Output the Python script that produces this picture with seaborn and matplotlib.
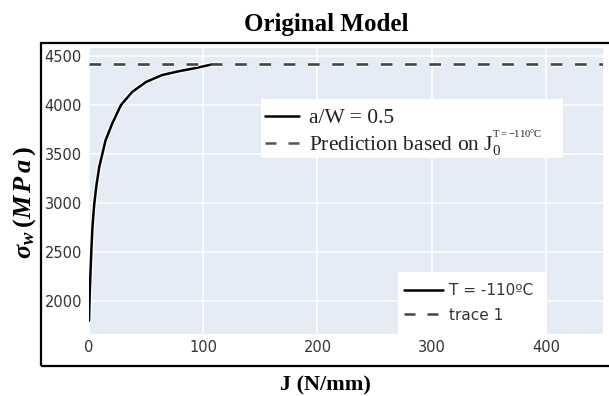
import matplotlib
matplotlib.use("Agg")
import matplotlib.pyplot as plt
import matplotlib.patheffects as pe
from matplotlib.lines import Line2D
from matplotlib.patches import Rectangle
import pandas as pd
import seaborn as sns

# Weibull stress vs. J-integral, a/W = 0.5, T = -110 °C
j_values = [0.0, 0.6, 1.2, 2.0, 3.0, 4.5, 6.5, 9.0, 14.5, 20.5, 28.0, 38.0,
            50.0, 64.0, 79.0, 94.0, 112.0]
sigma_values = [1800, 2070, 2260, 2500, 2750, 2980, 3180, 3370, 3640, 3815,
                4000, 4135, 4235, 4305, 4345, 4378, 4425]

# Prediction level from J0 at T = -110 °C
prediction_j = [0, 450]
prediction_sigma = [4420, 4420]

x_ticks = [0, 100, 200, 300, 400]
y_ticks = [2000, 2500, 3000, 3500, 4000, 4500]

model_labels = ["a/W = 0.5",
                r"Prediction based on $\mathrm{J}_0^{{}^{\mathrm{T=-110°C}}}$"]
trace_labels = ["T = -110ºC", "trace 1"]

curve = pd.DataFrame({"J": j_values, "sigma": sigma_values})
prediction = pd.DataFrame({"J": prediction_j, "sigma": prediction_sigma})

sns.set_theme(style="darkgrid", rc={
    "axes.facecolor": "#E5ECF6",
    "grid.color": "white",
    "grid.linewidth": 1.1,
})
plt.rcParams["mathtext.fontset"] = "custom"
plt.rcParams["mathtext.rm"] = "Liberation Serif"
plt.rcParams["mathtext.it"] = "Liberation Serif:italic"
plt.rcParams["mathtext.bf"] = "Liberation Serif:bold"
plt.rcParams["mathtext.bfit"] = "Liberation Serif:italic:bold"

W, H = 609, 396
fig = plt.figure(figsize=(W / 100, H / 100), dpi=100)
ax = fig.add_axes([89 / W, 1 - 334 / H, (603 - 89) / W, (334 - 48) / H])


def fx(px):
    return px / W


def fy(py):
    return 1 - py / H


halo = [pe.withStroke(linewidth=3.6, foreground="white", alpha=0.85)]
dash_pattern = (4.4, 4.8)

sns.lineplot(data=curve, x="J", y="sigma", ax=ax, color="black",
             linewidth=1.8, sort=False, path_effects=halo)
sns.lineplot(data=prediction, x="J", y="sigma", ax=ax, color="#444444",
             linewidth=1.9, path_effects=halo)
ax.lines[-1].set_dashes(dash_pattern)

ax.set_xlim(0, 450)
ax.set_ylim(1665, 4581)
ax.set_xticks(x_ticks)
ax.set_yticks(y_ticks)
ax.tick_params(axis="both", length=0, labelsize=10.5, colors="#333333", pad=5)
ax.tick_params(axis="x", pad=4)
ax.set_xlabel("")
ax.set_ylabel("")
for s in ax.spines.values():
    s.set_visible(False)

# Outer frame
fig.patches.append(Rectangle((fx(41), fy(366)), (W + 10 - 41) / W,
                             (366 - 43) / H, transform=fig.transFigure,
                             fill=False, edgecolor="black", linewidth=1.6,
                             clip_on=False, zorder=3))

fig.text(fx(326), fy(31), "Original Model", ha="center", va="baseline",
         fontsize=18, fontweight="bold", family="Liberation Serif",
         color="black")
fig.text(fx(325), fy(390), "J (N/mm)", ha="center", va="baseline",
         fontsize=16, fontweight="bold", family="Liberation Serif",
         color="black")
fig.text(fx(25), fy(202),
         r"$\mathbfit{\sigma_w}\:\mathbf{(}\mathbfit{M\,P\,a}\:\mathbf{)}$",
         ha="center", va="center", rotation=90, fontsize=19, color="black")

# Legend backgrounds
fig.patches.append(Rectangle((fx(261), fy(158)), (563 - 261) / W,
                             (158 - 99) / H, transform=fig.transFigure,
                             facecolor="white", edgecolor="none", zorder=2))
fig.patches.append(Rectangle((fx(398), fy(334)), (547 - 398) / W,
                             (334 - 272) / H, transform=fig.transFigure,
                             facecolor="white", edgecolor="none", zorder=2))

# Legend with the model description
h1 = [Line2D([], [], color="black", linewidth=1.8),
      Line2D([], [], color="#555555", linewidth=1.8, dashes=dash_pattern)]
leg1 = fig.legend(h1, model_labels, loc="center left",
                  bbox_to_anchor=(fx(265), fy(133)),
                  bbox_transform=fig.transFigure, borderaxespad=0,
                  prop={"family": "Liberation Serif", "size": 15.5},
                  frameon=False, handlelength=1.6, handletextpad=0.45,
                  labelspacing=0.0, borderpad=0)
leg1.set_zorder(4)
for t in leg1.get_texts():
    t.set_color("#222222")

# Trace legend
h2 = [Line2D([], [], color="black", linewidth=1.8),
      Line2D([], [], color="#444444", linewidth=1.8, dashes=dash_pattern)]
leg2 = fig.legend(h2, trace_labels, loc="center left",
                  bbox_to_anchor=(fx(404), fy(303)),
                  bbox_transform=fig.transFigure, borderaxespad=0,
                  prop={"family": "DejaVu Sans", "size": 11},
                  frameon=False, handlelength=2.55, handletextpad=0.4,
                  labelspacing=0.6, borderpad=0)
leg2.set_zorder(4)
for t in leg2.get_texts():
    t.set_color("#333333")

fig.savefig("out.png", dpi=100)
